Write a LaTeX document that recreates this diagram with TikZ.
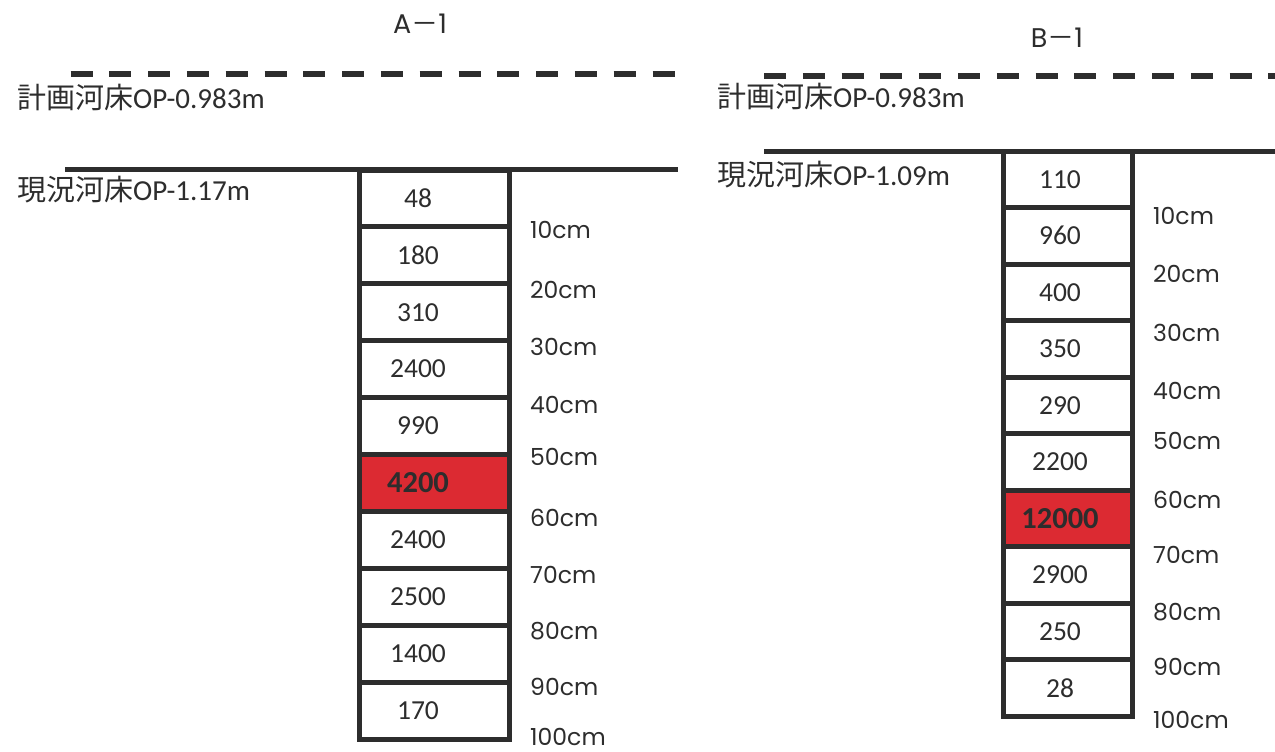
\documentclass[tikz,border=0pt]{standalone}
\usepackage{fontspec}
\setmainfont{Carlito}
\newfontfamily\cjk{Noto Sans CJK JP}
\newfontfamily\geo{Poppins}
\usetikzlibrary{calc}
\definecolor{ink}{RGB}{45,45,45}
\definecolor{hot}{RGB}{220,42,50}
\begin{document}
\begin{tikzpicture}[x=1pt,y=-1pt,
  cellA/.style={draw=ink, line width=5pt, minimum width=150pt, minimum height=56.9pt, inner sep=0pt},
  cellB/.style={draw=ink, line width=5pt, minimum width=129pt, minimum height=56.5pt, inner sep=0pt},
  plain/.style={fill=white},
  hot/.style={fill=hot},
  val/.style={font=\fontsize{27.5}{27.5}\selectfont, text=ink, inner sep=0pt},
  hotval/.style={font=\bfseries\fontsize{30.5}{30.5}\selectfont, text=ink, inner sep=0pt},
  depth/.style={font=\geo\fontsize{23.5}{23.5}\selectfont, text=ink, inner sep=0pt, anchor=west},
  lab/.style={font=\fontsize{29}{29}\selectfont, text=ink, inner sep=0pt, anchor=west},
  ttl/.style={font=\geo\fontsize{27}{27}\selectfont, text=ink, inner sep=0pt},
  planline/.style={draw=ink, line width=6pt, dash pattern=on 22pt off 16.8pt},
  bedline/.style={draw=ink, line width=5pt}]
\useasboundingbox[fill=white] (0,0) rectangle (1275,752);

% ---------- A-1 ----------
\node[ttl] (tA) at (420,24) {A{\cjk －}1};
\coordinate (pA1) at (70.5,74);
\coordinate (pA2) at (678,74);
\draw[planline] (pA1) -- (pA2);
\node[lab] (lpA) at (17,97) {{\cjk 計画河床}OP-0.983m};
\coordinate (bA1) at (65,169.5);
\coordinate (bA2) at (678,169.5);
\draw[bedline] (bA1) -- (bA2);
\node[lab] (lbA) at (17,190) {{\cjk 現況河床}OP-1.17m};
\foreach \v/\s/\t [count=\i] in {48/plain/val,180/plain/val,310/plain/val,2400/plain/val,990/plain/val,4200/hot/hotval,2400/plain/val,2500/plain/val,1400/plain/val,170/plain/val}{
  \node[cellA,\s] (a\i) at (434.5,{170+56.9*(\i-0.5)}) {};
  \node[\t] (va\i) at ($(a\i.center)+(-16.5,0)$) {\v};
}
\foreach \d/\y in {10/230,20/290,30/347,40/405,50/457,60/518,70/575,80/631,90/687,100/737}{
  \node[depth] (dA\d) at (530,\y) {\d cm};
}

% ---------- B-1 ----------
\node[ttl] (tB) at (1057,38) {B{\cjk －}1};
\coordinate (pB1) at (764,76);
\coordinate (pB2) at (1275,76);
\draw[planline] (pB1) -- (pB2);
\node[lab] (lpB) at (717,96) {{\cjk 計画河床}OP-0.983m};
\coordinate (bB1) at (764,151);
\coordinate (bB2) at (1275,151);
\draw[bedline] (bB1) -- (bB2);
\node[lab] (lbB) at (717,175) {{\cjk 現況河床}OP-1.09m};
\foreach \v/\s/\t [count=\i] in {110/plain/val,960/plain/val,400/plain/val,350/plain/val,290/plain/val,2200/plain/val,12000/hot/hotval,2900/plain/val,250/plain/val,28/plain/val}{
  \node[cellB,\s] (b\i) at (1068,{151+56.5*(\i-0.5)}) {};
  \node[\t] (vb\i) at ($(b\i.center)+(-8,0)$) {\v};
}
\foreach \d/\y in {10/216,20/274,30/333,40/391,50/441,60/500,70/555,80/612,90/667,100/720}{
  \node[depth] (dB\d) at (1153,\y) {\d cm};
}
\end{tikzpicture}
\end{document}
